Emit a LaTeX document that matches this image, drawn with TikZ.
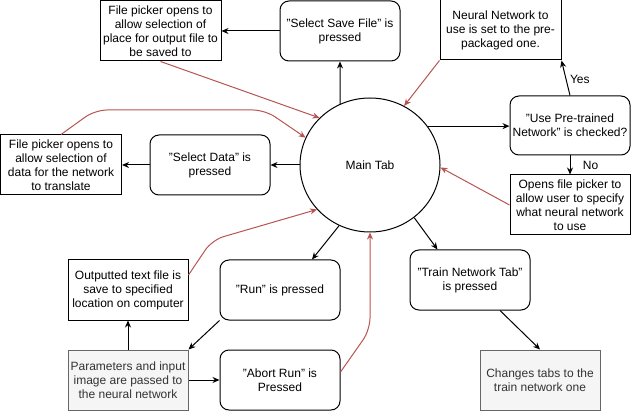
\documentclass[tikz,border=0pt]{standalone}
\usepackage{fontspec}
\setmainfont{Liberation Sans}
\usetikzlibrary{arrows.meta,shapes.geometric}
\definecolor{redline}{HTML}{B85450}
\definecolor{grayfill}{HTML}{F5F5F5}
\definecolor{grayline}{HTML}{666666}
\definecolor{graytext}{HTML}{333333}

\begin{document}
\begin{tikzpicture}[x={(1pt, 0pt)}, y={(0pt, -1pt)},
    font=\fontsize{12}{14}\selectfont,
    plain/.style={draw, line width=1pt, minimum width=120pt, minimum height=60pt, align=center, inner sep=2pt},
    press/.style={plain, rounded corners=9pt},
    done/.style={plain, draw=grayline, fill=grayfill, text=graytext},
    arr/.style={-{Stealth[length=7pt, width=6pt]}, line width=1pt},
    back/.style={arr, redline, rounded corners=12pt}]
  \useasboundingbox (0, 0) rectangle (631, 411);

  \node[draw, ellipse, line width=1pt, minimum width=140pt, minimum height=134pt] (main) at (370, 165) {Main Tab};

  \node[plain, minimum width=121pt] (savepick) at (160.5, 31) {File picker opens to\\allow selection of\\place for output file to\\be saved to};
  \node[press] (savebtn) at (340, 31) {"Select Save File" is\\pressed};
  \node[plain, minimum width=121pt] (prepack) at (500.5, 30) {Neural Network to\\use is set to the pre-\\packaged one.};
  \node[press, minimum height=59pt] (pretrain) at (570, 125.5) {"Use Pre-trained\\Network" is checked?};
  \node[plain] (userpick) at (570, 205) {Opens file picker to\\allow user to specify\\what neural network\\to use};
  \node[press] (databtn) at (210, 165) {"Select Data" is\\pressed};
  \node[plain, minimum width=121pt] (datapick) at (61, 165) {File picker opens to\\allow selection of\\data for the network\\to translate};
  \node[plain] (output) at (128, 290) {Outputted text file is\\save to specified\\location on computer};
  \node[press] (runbtn) at (280, 290) {"Run" is pressed};
  \node[done] (params) at (128, 380) {Parameters and input\\image are passed to\\the neural network};
  \node[press] (abortbtn) at (280, 380) {"Abort Run" is\\Pressed};
  \node[press] (trainbtn) at (470, 280) {"Train Network Tab"\\is pressed};
  \node[done] (changes) at (540, 380) {Changes tabs to the\\train network one};

  % forward steps
  \foreach \a/\b in {main.116/savebtn.south, savebtn.west/savepick.east,
                     main.west/databtn.east, databtn.west/datapick.east,
                     runbtn.south west/params.north east, params.north/output.south,
                     params.east/abortbtn.west} {
    \draw[arr] (\a) -- (\b);
  }
  \draw[arr] (main.34) -- (main.34 -| pretrain.west);
  \draw[arr] (pretrain.north) -- node[pos=0.45, right] {Yes} (prepack.south east);
  \draw[arr] (pretrain.south) -- node[right, xshift=9pt] {No} (userpick.north);
  \draw[arr] (main.243) -- ([xshift=32pt]runbtn.north);
  \draw[arr] (main.-50) -- ([xshift=28pt]trainbtn.north west);
  \draw[arr] ([xshift=30pt]trainbtn.south) -- (changes.north);

  % back to the main tab
  \draw[back] (savepick.south) -- (main.137);
  \draw[back] (prepack.south west) -- (main.60);
  \draw[back] (userpick.west) -- (main.-2);
  \draw[back] (datapick.north) -- (95, 110) -- (265, 110) -- (main.157);
  \draw[back] ([yshift=15pt]output.east) -- (212, 240) -- (main.220);
  \draw[back] ([yshift=8pt]abortbtn.east) -- (370, 330) -- (main.south);
\end{tikzpicture}
\end{document}
